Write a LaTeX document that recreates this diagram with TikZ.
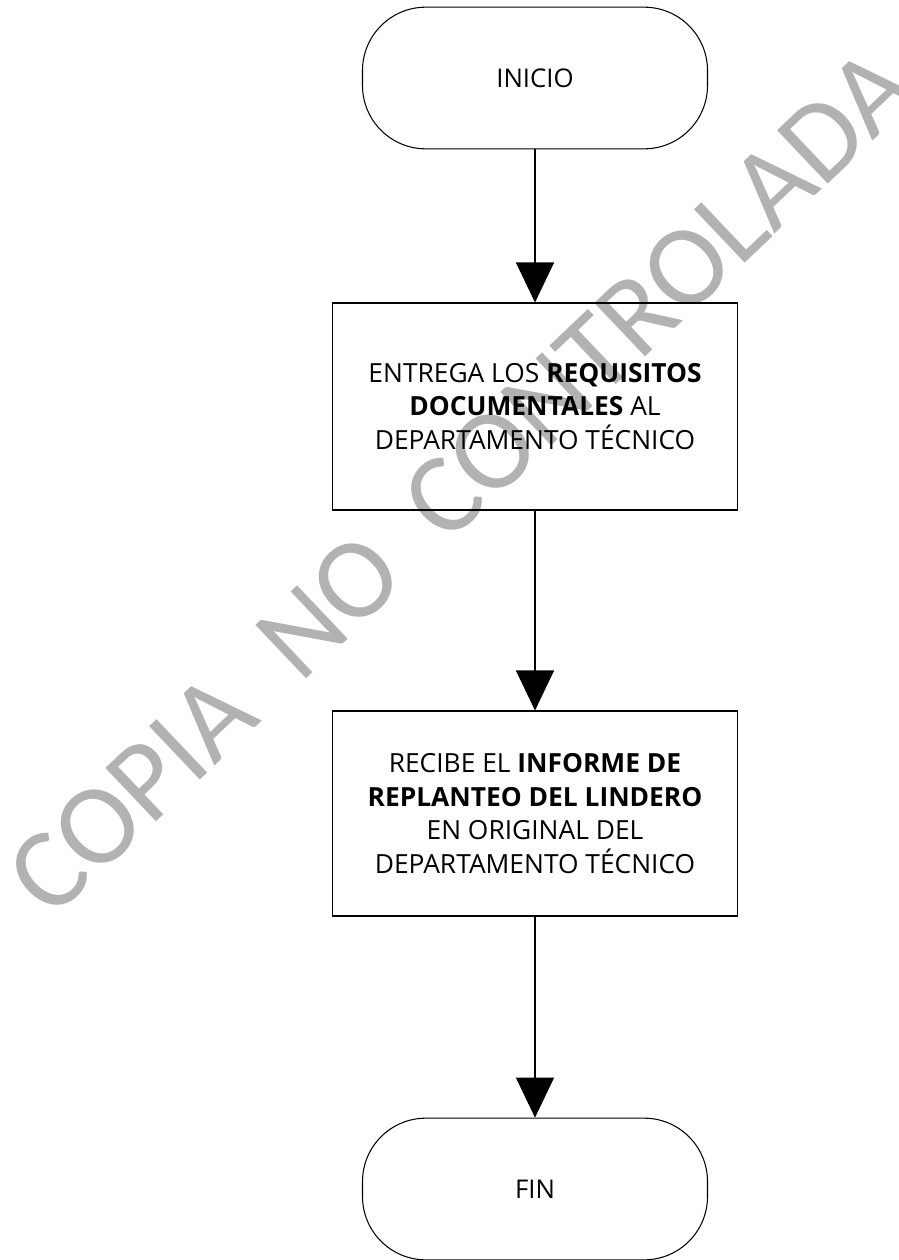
\documentclass[tikz,border=0pt]{standalone}
\usepackage{fontspec}
\setmainfont{Open Sans}
\newfontfamily\markfont{Carlito}
\usepackage{tikz}
\usetikzlibrary{positioning,arrows.meta}
\tikzstyle{term}= [draw, line width=0.9pt, rounded corners=1.9cm, minimum width=10.35cm, minimum height=4.25cm, align=center, font=\fontsize{22}{28.5}\selectfont]
\tikzstyle{proc}= [draw, line width=0.9pt, minimum width=12.15cm, align=center, font=\fontsize{22.5}{28.5}\selectfont]
\tikzstyle{flow}= [line width=0.9pt, -{Triangle[width=1.14cm,length=1.2cm]}]
\tikzstyle{wmark}= [text=black!30, font=\markfont\fontsize{98}{104}\selectfont, rotate=43.5, anchor=base west, inner sep=0pt]

\begin{document}
\begin{tikzpicture}
					\useasboundingbox (0,0) rectangle (26.97,-37.8);
					\node[wmark] at (1.54,-27.63) (wm) {COPIA~~NO~~CONTROLADA};
					\node[term] at (16.05,-2.34) (inicio) {INICIO};
					\node[proc, minimum height=6.21cm] at (16.05,-12.195) (entrega) {ENTREGA LOS \textbf{REQUISITOS}\\ \textbf{DOCUMENTALES} AL\\ DEPARTAMENTO TÉCNICO};
					\node[proc, minimum height=6.15cm] at (16.05,-24.405) (recibe) {RECIBE EL \textbf{INFORME DE}\\ \textbf{REPLANTEO DEL LINDERO}\\ EN ORIGINAL DEL\\ DEPARTAMENTO TÉCNICO};
					\node[term] at (16.05,-35.67) (fin) {FIN};
					\draw[flow] (inicio) -- (entrega);
					\draw[flow] (entrega) -- (recibe);
					\draw[flow] (recibe) -- (fin);
				\end{tikzpicture}
\end{document}
